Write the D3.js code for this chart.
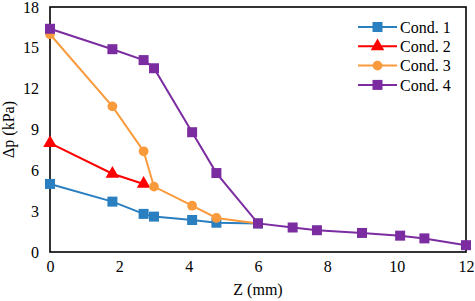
<!DOCTYPE html>
<html><head><meta charset="utf-8"><script src="https://cdn.jsdelivr.net/npm/d3@7"></script></head>
<body style="margin:0">
<script>
const seriesNames = ["Cond. 1", "Cond. 2", "Cond. 3", "Cond. 4"];
const cond1 = [[0, 5.0], [1.8, 3.7], [2.7, 2.8], [3.0, 2.6], [4.1, 2.35], [4.8, 2.15], [6.0, 2.1]];
const cond2 = [[0, 8.0], [1.8, 5.75], [2.7, 5.0]];
const cond3 = [[0, 16.0], [1.8, 10.7], [2.7, 7.4], [3.0, 4.8], [4.1, 3.4], [4.8, 2.5], [6.0, 2.1]];
const cond4 = [[0, 16.4], [1.8, 14.9], [2.7, 14.1], [3.0, 13.5], [4.1, 8.8], [4.8, 5.8], [6.0, 2.1],
  [7.0, 1.8], [7.7, 1.6], [9.0, 1.4], [10.1, 1.2], [10.8, 1.0], [12.0, 0.5]];
const xTicks = [0, 2, 4, 6, 8, 10, 12];
const yTicks = [0, 3, 6, 9, 12, 15, 18];

const allSeries = [cond1, cond2, cond3, cond4];
const colors = ["#2a7fc1", "#ff0000", "#f99a3c", "#7b2ca0"];
const shapes = [d3.symbolSquare, d3.symbolTriangle, d3.symbolCircle, d3.symbolSquare];
const sizes = [100, 80, 75, 100];

const W = 475, H = 301;
const margin = { top: 7, right: 9, bottom: 49, left: 50 };
const width = W - margin.left - margin.right;
const height = H - margin.top - margin.bottom;

const svg = d3.select("body").append("svg")
  .attr("width", W)
  .attr("height", H);

const g = svg.append("g")
  .attr("transform", `translate(${margin.left},${margin.top})`);

const x = d3.scaleLinear().domain([0, 12]).range([0, width]);
const y = d3.scaleLinear().domain([0, 18]).range([height, 0]);

// plain text helper so every label gets the serif font
function label(sel) {
  return sel.style("font-family", "'Liberation Serif'").style("font-size", "16px").attr("fill", "#000");
}

// axes: no tick marks, no domain line (the frame draws it)
const xAxis = g.append("g")
  .attr("transform", `translate(0,${height})`)
  .call(d3.axisBottom(x).tickValues(xTicks).tickSize(0).tickPadding(9));
const yAxis = g.append("g")
  .call(d3.axisLeft(y).tickValues(yTicks).tickSize(0).tickPadding(11));
[xAxis, yAxis].forEach(a => {
  a.select(".domain").remove();
  label(a.selectAll("text"));
});

g.append("rect")
  .attr("width", width)
  .attr("height", height)
  .attr("fill", "none")
  .attr("stroke", "#000")
  .attr("stroke-width", 1.6);

const line = d3.line().x(d => x(d[0])).y(d => y(d[1]));

allSeries.forEach((data, i) => {
  g.append("path")
    .datum(data)
    .attr("fill", "none")
    .attr("stroke", colors[i])
    .attr("stroke-width", 2)
    .attr("d", line);

  g.selectAll(null)
    .data(data)
    .enter().append("path")
    .attr("transform", d => `translate(${x(d[0])},${y(d[1])})`)
    .attr("d", d3.symbol().type(shapes[i]).size(sizes[i]))
    .attr("fill", colors[i]);
});

// legend
const legend = svg.append("g").attr("transform", "translate(358,27)");
seriesNames.forEach((name, i) => {
  const row = legend.append("g").attr("transform", `translate(0,${i * 19.3})`);
  row.append("line")
    .attr("x1", 0).attr("x2", 39)
    .attr("stroke", colors[i])
    .attr("stroke-width", 2);
  row.append("path")
    .attr("transform", "translate(19.5,0)")
    .attr("d", d3.symbol().type(shapes[i]).size(sizes[i]))
    .attr("fill", colors[i]);
  label(row.append("text"))
    .attr("x", 42)
    .attr("dy", "0.35em")
    .text(name);
});

label(svg.append("text"))
  .attr("x", margin.left + width / 2)
  .attr("y", 295)
  .attr("text-anchor", "middle")
  .text("Z (mm)");

label(svg.append("text"))
  .attr("transform", `translate(14,${margin.top + height / 2}) rotate(-90)`)
  .attr("text-anchor", "middle")
  .text("Δp (kPa)");
</script>
</body></html>
